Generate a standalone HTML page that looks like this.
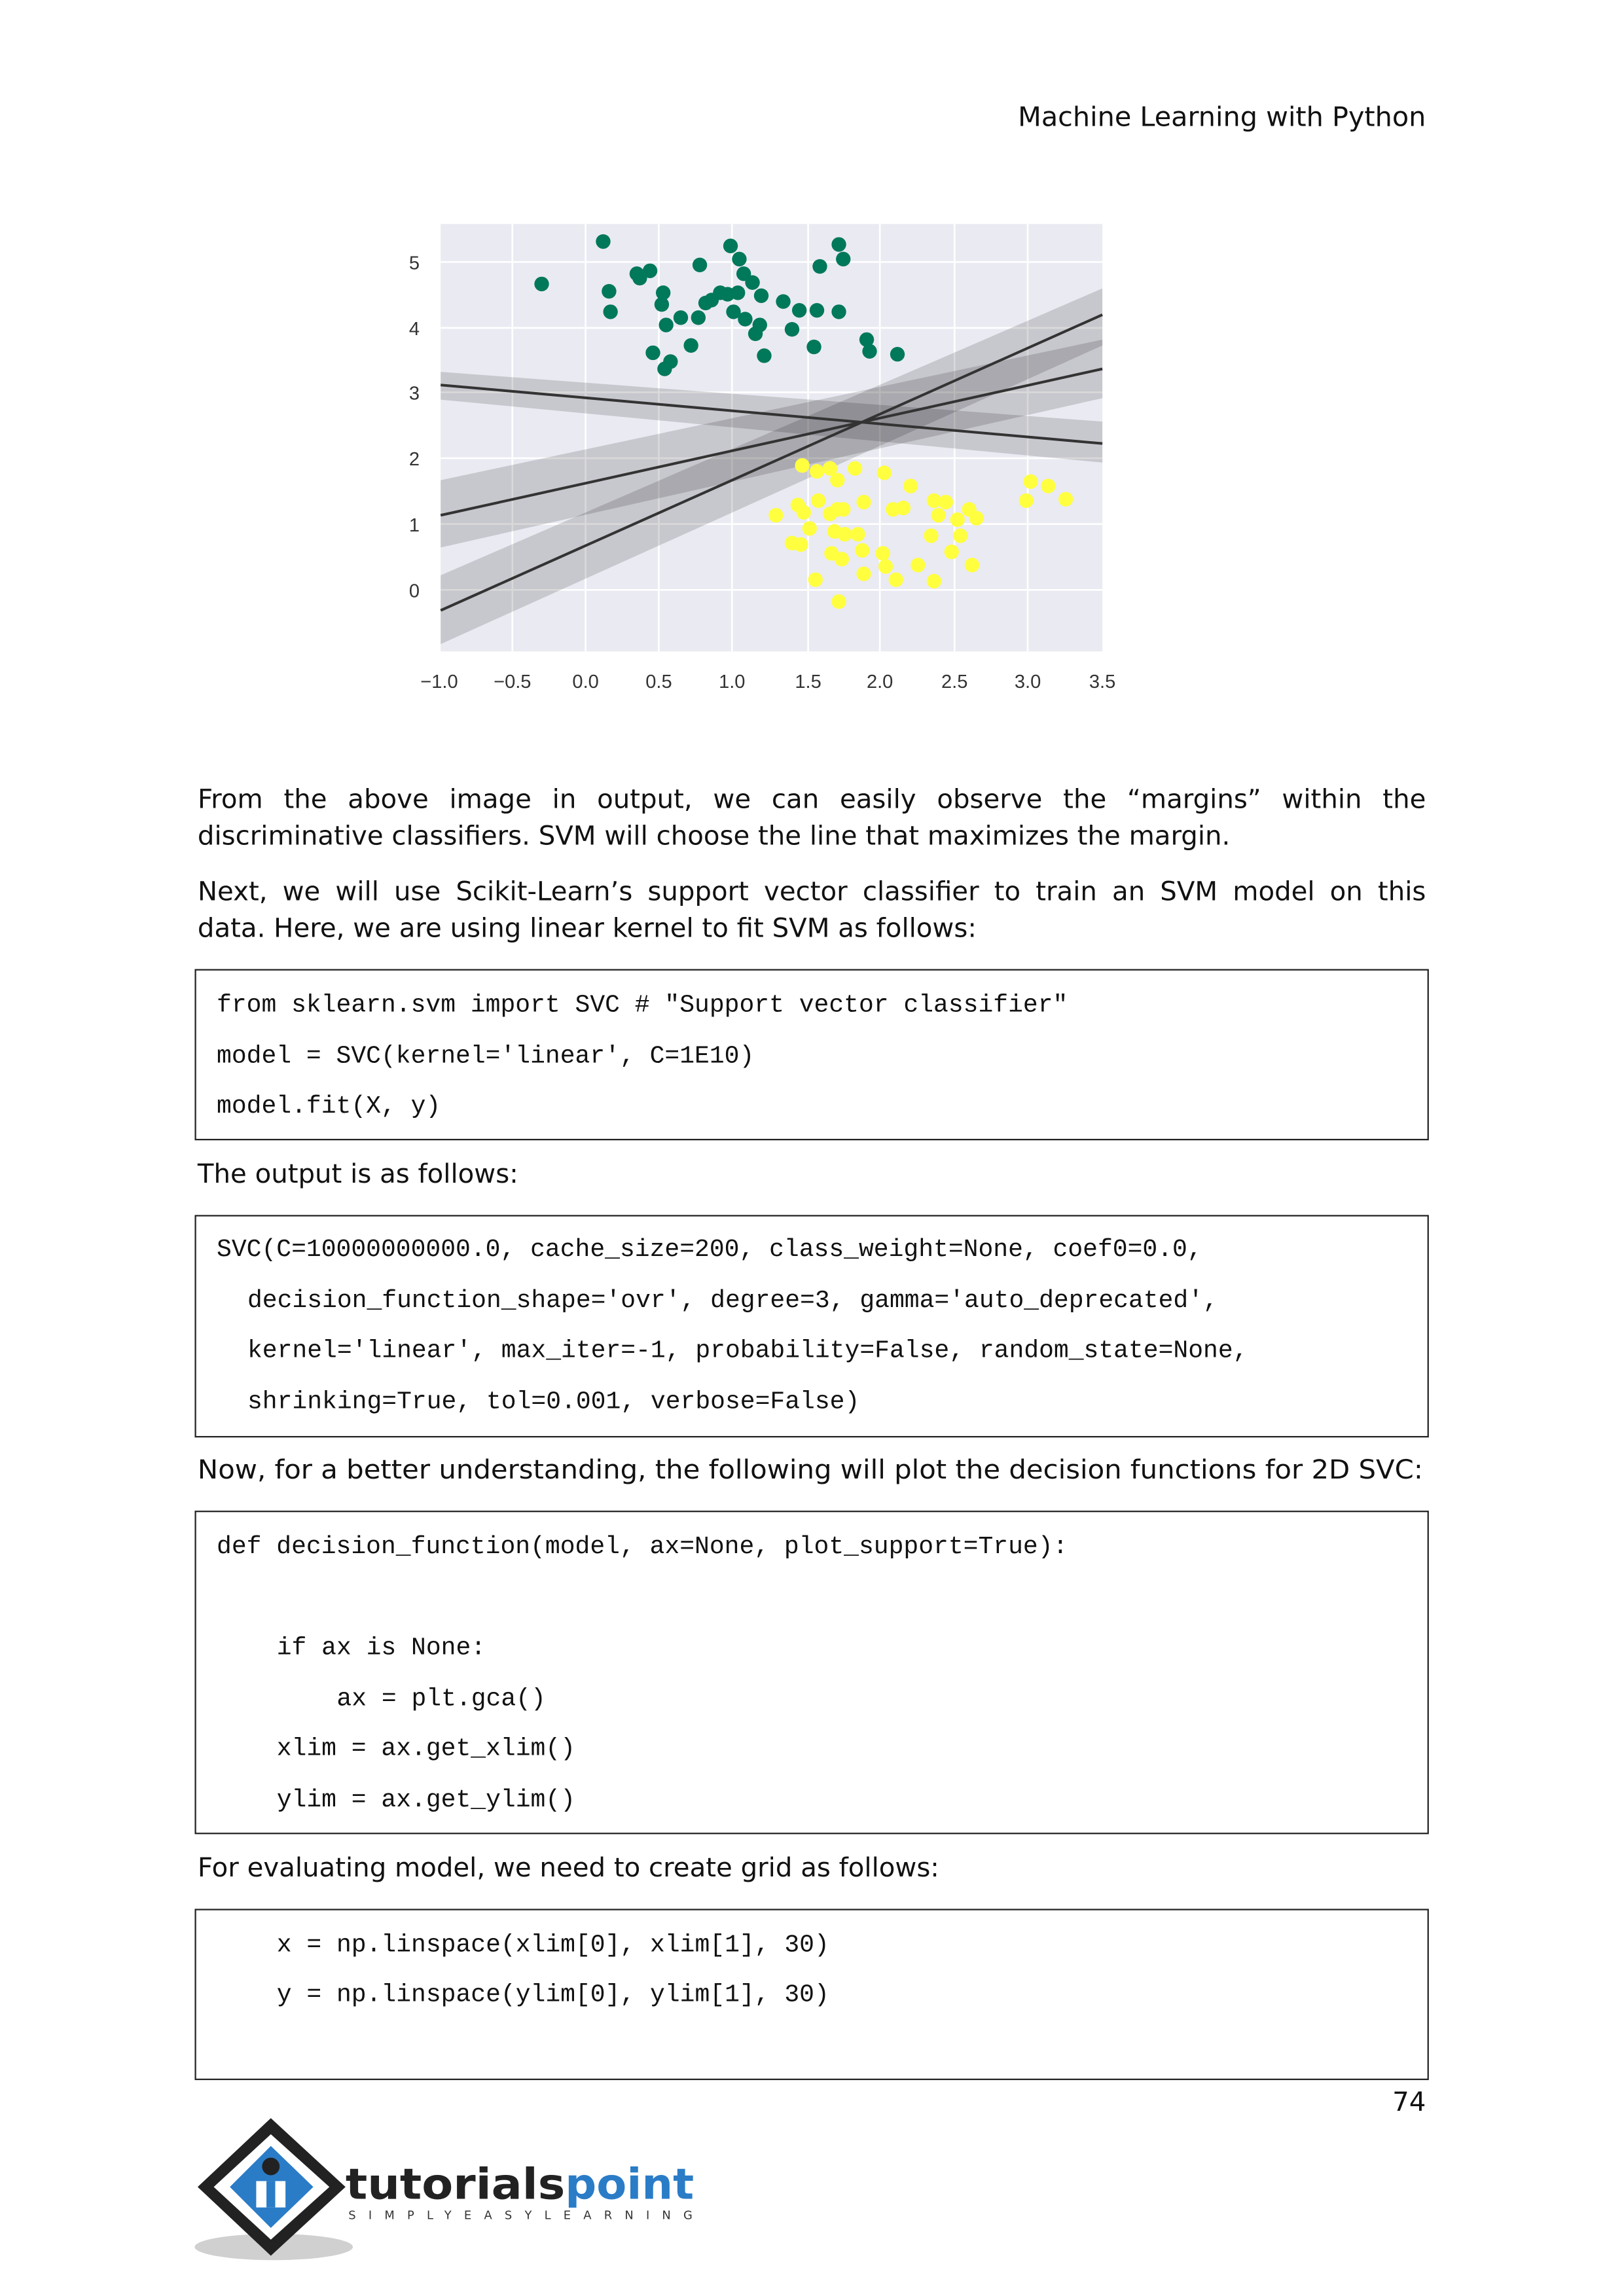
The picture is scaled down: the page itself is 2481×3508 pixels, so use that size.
<!DOCTYPE html>
<html><head><meta charset="utf-8"><style>html,body{margin:0;padding:0;background:#fff}svg{display:block}
.j{font-family:"DejaVu Sans",Verdana,sans-serif;font-size:18px;color:#111;text-align:justify;text-align-last:justify;white-space:nowrap;line-height:24px;margin:0}
.j{white-space:normal}</style></head>
<body>
<svg width="2481" height="3508" viewBox="0 0 1109.3 1568.5" xmlns="http://www.w3.org/2000/svg">
<rect width="1109.3" height="1568.5" fill="#fff"/>
<text x="974" y="86" text-anchor="end" font-family="DejaVu Sans, Verdana, sans-serif" font-size="18.5" fill="#111">Machine Learning with Python</text>

<!-- plot -->
<rect x="301" y="153" width="452" height="292" fill="#eaeaf2"/>
<g stroke="#fff" stroke-width="1.2">
<line x1="301" y1="179" x2="753" y2="179"/><line x1="301" y1="224" x2="753" y2="224"/><line x1="301" y1="268" x2="753" y2="268"/><line x1="301" y1="313" x2="753" y2="313"/><line x1="301" y1="358" x2="753" y2="358"/><line x1="301" y1="403" x2="753" y2="403"/>
<line x1="350" y1="153" x2="350" y2="445"/><line x1="400" y1="153" x2="400" y2="445"/><line x1="450" y1="153" x2="450" y2="445"/><line x1="500" y1="153" x2="500" y2="445"/><line x1="552" y1="153" x2="552" y2="445"/><line x1="601" y1="153" x2="601" y2="445"/><line x1="652" y1="153" x2="652" y2="445"/><line x1="702" y1="153" x2="702" y2="445"/>
</g>
<g fill="#000" fill-opacity="0.15">
<polygon points="301,254 753,288 753,316 301,273"/>
<polygon points="301,328 753,232 753,272 301,374"/>
<polygon points="301,393 753,197 753,236 301,440"/>
</g>
<g stroke="#333" stroke-width="1.8">
<line x1="301" y1="263" x2="753" y2="303"/>
<line x1="301" y1="352" x2="753" y2="252"/>
<line x1="301" y1="417" x2="753" y2="215"/>
</g>
<g fill="#00785a">
<circle cx="370" cy="194" r="5"/><circle cx="412" cy="165" r="5"/><circle cx="416" cy="199" r="5"/><circle cx="417" cy="213" r="5"/><circle cx="435" cy="187" r="5"/><circle cx="437" cy="190" r="5"/><circle cx="444" cy="185" r="5"/><circle cx="446" cy="241" r="5"/><circle cx="453" cy="200" r="5"/><circle cx="452" cy="208" r="5"/><circle cx="455" cy="222" r="5"/><circle cx="454" cy="252" r="5"/><circle cx="458" cy="247" r="5"/><circle cx="465" cy="217" r="5"/><circle cx="472" cy="236" r="5"/><circle cx="478" cy="181" r="5"/><circle cx="477" cy="217" r="5"/><circle cx="482" cy="207" r="5"/><circle cx="486" cy="205" r="5"/><circle cx="492" cy="200" r="5"/><circle cx="499" cy="168" r="5"/><circle cx="505" cy="177" r="5"/><circle cx="497" cy="201" r="5"/><circle cx="501" cy="213" r="5"/><circle cx="504" cy="200" r="5"/><circle cx="508" cy="187" r="5"/><circle cx="509" cy="218" r="5"/><circle cx="514" cy="193" r="5"/><circle cx="516" cy="228" r="5"/><circle cx="520" cy="202" r="5"/><circle cx="519" cy="222" r="5"/><circle cx="522" cy="243" r="5"/><circle cx="535" cy="206" r="5"/><circle cx="541" cy="225" r="5"/><circle cx="546" cy="212" r="5"/><circle cx="556" cy="237" r="5"/><circle cx="558" cy="212" r="5"/><circle cx="560" cy="182" r="5"/><circle cx="573" cy="167" r="5"/><circle cx="576" cy="177" r="5"/><circle cx="573" cy="213" r="5"/><circle cx="592" cy="232" r="5"/><circle cx="594" cy="240" r="5"/><circle cx="613" cy="242" r="5"/>
</g>
<g fill="#ffff40">
<circle cx="548" cy="318" r="5"/><circle cx="558" cy="322" r="5"/><circle cx="567" cy="320" r="5"/><circle cx="584" cy="320" r="5"/><circle cx="604" cy="323" r="5"/><circle cx="572" cy="328" r="5"/><circle cx="622" cy="332" r="5"/><circle cx="530" cy="352" r="5"/><circle cx="545" cy="345" r="5"/><circle cx="549" cy="350" r="5"/><circle cx="553" cy="361" r="5"/><circle cx="541" cy="371" r="5"/><circle cx="547" cy="372" r="5"/><circle cx="559" cy="342" r="5"/><circle cx="567" cy="351" r="5"/><circle cx="572" cy="348" r="5"/><circle cx="576" cy="348" r="5"/><circle cx="590" cy="343" r="5"/><circle cx="570" cy="363" r="5"/><circle cx="577" cy="365" r="5"/><circle cx="586" cy="365" r="5"/><circle cx="568" cy="378" r="5"/><circle cx="575" cy="382" r="5"/><circle cx="589" cy="376" r="5"/><circle cx="603" cy="378" r="5"/><circle cx="605" cy="387" r="5"/><circle cx="590" cy="392" r="5"/><circle cx="557" cy="396" r="5"/><circle cx="573" cy="411" r="5"/><circle cx="610" cy="348" r="5"/><circle cx="617" cy="347" r="5"/><circle cx="638" cy="342" r="5"/><circle cx="646" cy="343" r="5"/><circle cx="641" cy="352" r="5"/><circle cx="654" cy="355" r="5"/><circle cx="662" cy="348" r="5"/><circle cx="667" cy="354" r="5"/><circle cx="656" cy="366" r="5"/><circle cx="636" cy="366" r="5"/><circle cx="650" cy="377" r="5"/><circle cx="627" cy="386" r="5"/><circle cx="638" cy="397" r="5"/><circle cx="664" cy="386" r="5"/><circle cx="704" cy="329" r="5"/><circle cx="716" cy="332" r="5"/><circle cx="701" cy="342" r="5"/><circle cx="728" cy="341" r="5"/><circle cx="612" cy="396" r="5"/>
</g>
<g font-family="Liberation Sans, sans-serif" font-size="13" fill="#333">
<text x="283" y="184" text-anchor="middle">5</text><text x="283" y="229" text-anchor="middle">4</text><text x="283" y="273" text-anchor="middle">3</text><text x="283" y="318" text-anchor="middle">2</text><text x="283" y="363" text-anchor="middle">1</text><text x="283" y="408" text-anchor="middle">0</text>
<g text-anchor="middle"><text x="300" y="470">−1.0</text><text x="350" y="470">−0.5</text><text x="400" y="470">0.0</text><text x="450" y="470">0.5</text><text x="500" y="470">1.0</text><text x="552" y="470">1.5</text><text x="601" y="470">2.0</text><text x="652" y="470">2.5</text><text x="702" y="470">3.0</text><text x="753" y="470">3.5</text></g>
</g>

<!-- body text -->
<foreignObject x="135" y="535" width="839" height="26"><div xmlns="http://www.w3.org/1999/xhtml" class="j">From the above image in output, we can easily observe the “margins” within the</div></foreignObject>
<foreignObject x="135" y="598" width="839" height="26"><div xmlns="http://www.w3.org/1999/xhtml" class="j">Next, we will use Scikit-Learn’s support vector classifier to train an SVM model on this</div></foreignObject>
<g font-family="DejaVu Sans, Verdana, sans-serif" font-size="18" fill="#111">
<text x="135" y="577">discriminative classifiers. SVM will choose the line that maximizes the margin.</text>
<text x="135" y="640">data. Here, we are using linear kernel to fit SVM as follows:</text>
<text x="135" y="808">The output is as follows:</text>
<text x="135" y="1010" textLength="837" lengthAdjust="spacingAndGlyphs">Now, for a better understanding, the following will plot the decision functions for 2D SVC:</text>
<text x="135" y="1282">For evaluating model, we need to create grid as follows:</text>
<text x="974" y="1442" text-anchor="end">74</text>
</g>

<!-- code boxes -->
<g fill="none" stroke="#222" stroke-width="1">
<rect x="133.5" y="662.5" width="842" height="116"/>
<rect x="133.5" y="830.5" width="842" height="151"/>
<rect x="133.5" y="1032.5" width="842" height="220"/>
<rect x="133.5" y="1304.5" width="842" height="116"/>
</g>
<g font-family="Liberation Mono, DejaVu Sans Mono, monospace" font-size="17" fill="#111" xml:space="preserve">
<text x="148" y="691">from sklearn.svm import SVC # "Support vector classifier"</text>
<text x="148" y="726">model = SVC(kernel='linear', C=1E10)</text>
<text x="148" y="760">model.fit(X, y)</text>
<text x="148" y="858">SVC(C=10000000000.0, cache_size=200, class_weight=None, coef0=0.0,</text>
<text x="169" y="893">decision_function_shape='ovr', degree=3, gamma='auto_deprecated',</text>
<text x="169" y="927">kernel='linear', max_iter=-1, probability=False, random_state=None,</text>
<text x="169" y="962">shrinking=True, tol=0.001, verbose=False)</text>
<text x="148" y="1061">def decision_function(model, ax=None, plot_support=True):</text>
<text x="189" y="1130">if ax is None:</text>
<text x="230" y="1165">ax = plt.gca()</text>
<text x="189" y="1199">xlim = ax.get_xlim()</text>
<text x="189" y="1234">ylim = ax.get_ylim()</text>
<text x="189" y="1333">x = np.linspace(xlim[0], xlim[1], 30)</text>
<text x="189" y="1367">y = np.linspace(ylim[0], ylim[1], 30)</text>
</g>

<!-- logo -->
<ellipse cx="187" cy="1535" rx="54" ry="9" fill="#d0d0d0"/>
<polygon points="185,1447 236,1494 185,1541 135,1494" fill="#222"/>
<polygon points="185,1458 225,1494 185,1530 146,1494" fill="#fff"/>
<polygon points="185,1466 214,1494 185,1522 157,1494" fill="#2a7cc7"/>
<circle cx="185" cy="1480" r="6" fill="#222"/>
<rect x="175" y="1490" width="20" height="18" fill="#fff"/>
<rect x="182" y="1490" width="6" height="18" fill="#2a7cc7"/>
<text x="236" y="1502" font-family="DejaVu Sans, sans-serif" font-weight="bold" font-size="29" fill="#222" textLength="150" lengthAdjust="spacingAndGlyphs">tutorials</text>
<text x="386" y="1502" font-family="DejaVu Sans, sans-serif" font-weight="bold" font-size="29" fill="#2a7cc7" textLength="88" lengthAdjust="spacingAndGlyphs">point</text>
<text x="238" y="1516" font-family="DejaVu Sans, sans-serif" font-size="8" fill="#333" textLength="235" lengthAdjust="spacing">SIMPLYEASYLEARNING</text>
</svg>
</body></html>
